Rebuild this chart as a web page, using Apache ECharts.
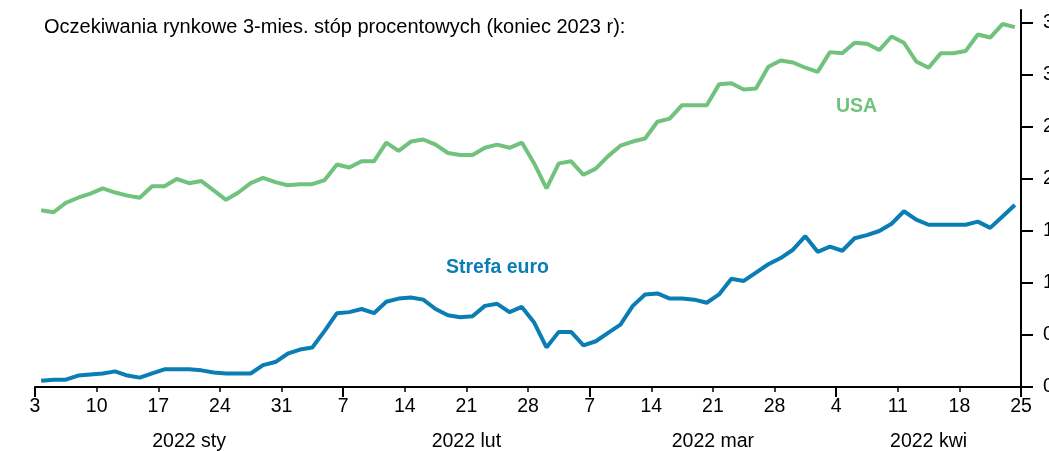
<!DOCTYPE html>
<html>
<head>
<meta charset="utf-8">
<script src="https://cdn.jsdelivr.net/npm/echarts@6/dist/echarts.min.js"></script>
<style>html,body{margin:0;padding:0;background:#fff;}#c{width:1049px;height:451px;}</style>
</head>
<body>
<div id="c"></div>
<script>
// Business days 3 Jan 2022 – 22 Apr 2022 (80 sessions)
const usa = [1.70,1.68,1.77,1.82,1.86,1.91,1.87,1.84,1.82,1.93,
             1.93,2.00,1.96,1.98,1.89,1.80,1.87,1.96,2.01,1.97,
             1.94,1.95,1.95,1.99,2.14,2.11,2.17,2.17,2.35,2.27,
             2.36,2.38,2.33,2.25,2.23,2.23,2.30,2.33,2.30,2.35,
             2.15,1.91,2.15,2.17,2.04,2.10,2.22,2.32,2.36,2.39,
             2.55,2.58,2.71,2.71,2.71,2.91,2.92,2.86,2.87,3.08,
             3.14,3.12,3.07,3.03,3.22,3.21,3.31,3.30,3.24,3.37,
             3.31,3.13,3.07,3.21,3.21,3.23,3.39,3.36,3.49,3.46];
const euro = [0.06,0.07,0.07,0.11,0.12,0.13,0.15,0.11,0.09,0.13,
              0.17,0.17,0.17,0.16,0.14,0.13,0.13,0.13,0.21,0.24,
              0.32,0.36,0.38,0.54,0.71,0.72,0.75,0.71,0.82,0.85,
              0.86,0.84,0.75,0.69,0.67,0.68,0.78,0.80,0.72,0.77,
              0.62,0.38,0.53,0.53,0.40,0.44,0.52,0.60,0.78,0.89,
              0.90,0.85,0.85,0.84,0.81,0.89,1.04,1.02,1.10,1.18,
              1.24,1.32,1.45,1.30,1.35,1.31,1.43,1.46,1.50,1.57,
              1.69,1.61,1.56,1.56,1.56,1.56,1.59,1.53,1.64,1.75];
const dayTickLabels = ['3','10','17','24','31','7','14','21','28','7','14','21','28','4','11','18','25'];
const monthLabels = ['2022 sty','2022 lut','2022 mar','2022 kwi'];
const monthBounds = [0,25,45,65,80];   // week-boundary positions (sessions) of month starts
const yTicks = [0,0.5,1,1.5,2,2.5,3,3.5];
const title = 'Oczekiwania rynkowe 3-mies. stóp procentowych (koniec 2023 r):';

const FONT = '"Liberation Sans", Arial, sans-serif';
const dayTickValues = dayTickLabels.map((_, k) => k * 5);
const monthCenters = monthLabels.map((_, k) => (monthBounds[k] + monthBounds[k + 1]) / 2);
const toPairs = arr => arr.map((v, i) => [i + 0.5, v]);

const chart = echarts.init(document.getElementById('c'), null, {renderer: 'canvas'});
chart.setOption({
  animation: false,
  backgroundColor: '#fff',
  grid: {left: 35, right: 28, top: 10, bottom: 64, containLabel: false, outerBoundsMode: 'none'},
  xAxis: [{
    type: 'value', min: 0, max: 80, interval: 5,
    axisLine: {show: true, onZero: false, lineStyle: {color: '#000', width: 2}},
    axisTick: {show: true, length: 5, lineStyle: {color: '#000', width: 1.5}},
    splitLine: {show: false},
    axisLabel: {
      customValues: dayTickValues, margin: 10, color: '#000', fontSize: 19.5, fontFamily: FONT,
      formatter: v => dayTickLabels[Math.round(v / 5)]
    }
  }, {
    type: 'value', min: 0, max: 80, position: 'bottom',
    axisLine: {show: false, onZero: false},
    axisTick: {show: true, customValues: monthBounds, length: 10, lineStyle: {color: '#000', width: 2}},
    splitLine: {show: false},
    axisLabel: {
      customValues: monthCenters, margin: 45, color: '#000', fontSize: 19.5, fontFamily: FONT,
      formatter: v => monthLabels[monthCenters.indexOf(v)]
    }
  }],
  yAxis: {
    type: 'value', position: 'right', min: 0, max: 3.625,
    axisLine: {show: true, onZero: false, lineStyle: {color: '#000', width: 2}},
    axisTick: {show: true, inside: false, length: 12, customValues: yTicks, lineStyle: {color: '#000', width: 2}},
    splitLine: {show: false},
    axisLabel: {
      customValues: yTicks, margin: 22, color: '#000', fontSize: 19.5, fontFamily: FONT,
      formatter: v => v.toFixed(1).replace('.', ',')
    }
  },
  graphic: [
    {type: 'text', left: 44, top: 17, style: {text: title, fill: '#000', font: '20px ' + FONT}},
    {type: 'text', left: 836, top: 97, style: {text: 'USA', fill: '#70c27c', font: 'bold 19.5px ' + FONT}},
    {type: 'text', left: 446, top: 258, style: {text: 'Strefa euro', fill: '#0a7db4', font: 'bold 19.5px ' + FONT}}
  ],
  series: [
    {type: 'line', name: 'USA', xAxisIndex: 0, data: toPairs(usa), showSymbol: false, symbol: 'none',
     lineStyle: {color: '#70c27c', width: 4}, z: 3},
    {type: 'line', name: 'Strefa euro', xAxisIndex: 0, data: toPairs(euro), showSymbol: false, symbol: 'none',
     lineStyle: {color: '#0a7db4', width: 4}, z: 4}
  ]
});
</script>
</body>
</html>
